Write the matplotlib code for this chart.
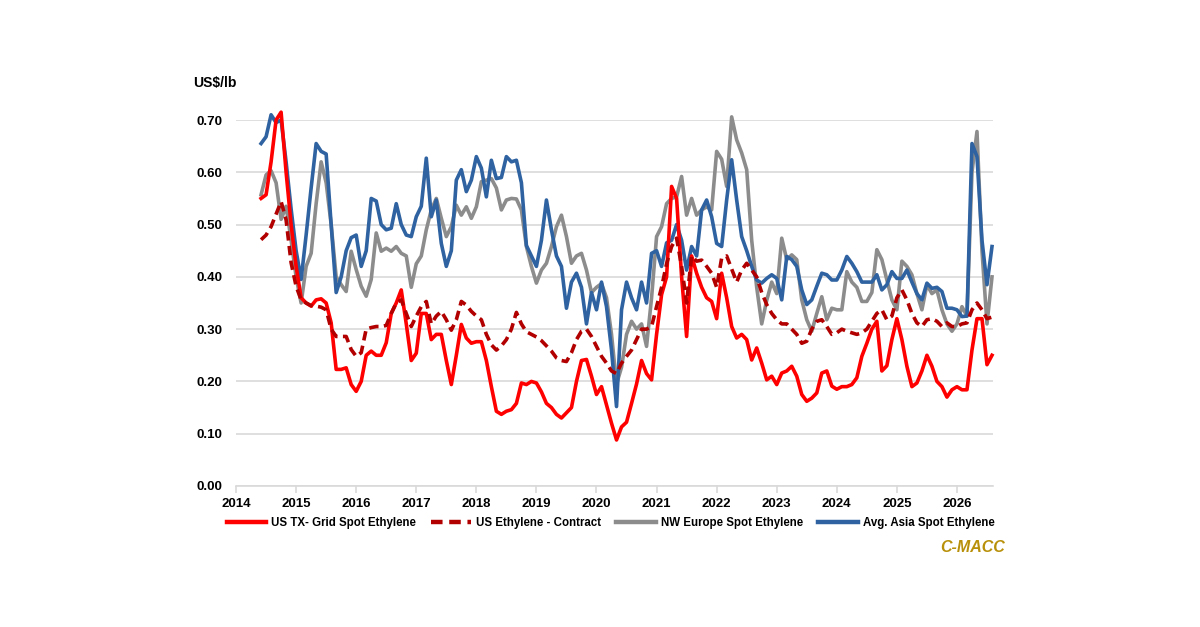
import matplotlib
matplotlib.use("Agg")
import matplotlib.pyplot as plt
import numpy as np

# monthly series, first point = June 2014
start_year = 2014
start_month = 6

us_tx_spot = [
    0.55, 0.557, 0.62, 0.70, 0.715, 0.60, 0.50, 0.42, 0.36, 0.35, 0.344, 0.356,
    0.358, 0.35, 0.312, 0.223, 0.223, 0.226, 0.194, 0.181, 0.20, 0.25, 0.258, 0.25,
    0.25, 0.274, 0.33, 0.35, 0.375, 0.31, 0.24, 0.254, 0.33, 0.33, 0.28, 0.29,
    0.29, 0.24, 0.194, 0.25, 0.309, 0.283, 0.273, 0.276, 0.276, 0.24, 0.19, 0.143,
    0.137, 0.143, 0.146, 0.158, 0.197, 0.194, 0.20, 0.197, 0.18, 0.158, 0.15, 0.137,
    0.13, 0.14, 0.15, 0.20, 0.24, 0.242, 0.21, 0.175, 0.19, 0.155, 0.12, 0.088,
    0.113, 0.122, 0.158, 0.195, 0.24, 0.215, 0.203, 0.29, 0.366, 0.40, 0.573, 0.55,
    0.40, 0.286, 0.44, 0.407, 0.38, 0.36, 0.353, 0.32, 0.407, 0.36, 0.305, 0.283,
    0.29, 0.28, 0.241, 0.264, 0.235, 0.203, 0.21, 0.194, 0.216, 0.22, 0.229, 0.21,
    0.175, 0.162, 0.168, 0.178, 0.216, 0.22, 0.191, 0.185, 0.19, 0.19, 0.194, 0.207,
    0.248, 0.273, 0.30, 0.315, 0.22, 0.23, 0.28, 0.32, 0.28, 0.229, 0.19, 0.197,
    0.22, 0.25, 0.229, 0.20, 0.19, 0.17, 0.184, 0.19, 0.184, 0.184, 0.26, 0.32,
    0.32, 0.232, 0.25,
]

us_contract = [
    0.471, 0.48, 0.496, 0.52, 0.544, 0.509, 0.427, 0.382, 0.356, 0.35, 0.345, 0.344,
    0.342, 0.337, 0.30, 0.286, 0.286, 0.286, 0.261, 0.248, 0.255, 0.30, 0.303, 0.305,
    0.305, 0.307, 0.33, 0.35, 0.356, 0.33, 0.305, 0.325, 0.343, 0.353, 0.31, 0.325,
    0.334, 0.318, 0.298, 0.318, 0.353, 0.346, 0.334, 0.325, 0.318, 0.29, 0.27, 0.26,
    0.268, 0.28, 0.30, 0.332, 0.31, 0.295, 0.29, 0.285, 0.278, 0.268, 0.258, 0.245,
    0.24, 0.238, 0.255, 0.28, 0.296, 0.30, 0.286, 0.267, 0.248, 0.235, 0.22, 0.215,
    0.235, 0.248, 0.26, 0.28, 0.30, 0.30, 0.305, 0.343, 0.38, 0.425, 0.458, 0.474,
    0.42, 0.35, 0.44, 0.43, 0.432, 0.42, 0.407, 0.38, 0.436, 0.44, 0.415, 0.39,
    0.413, 0.426, 0.413, 0.40, 0.37, 0.347, 0.33, 0.318, 0.31, 0.31, 0.30, 0.29,
    0.273, 0.277, 0.30, 0.315, 0.318, 0.305, 0.29, 0.293, 0.30, 0.296, 0.293, 0.29,
    0.293, 0.30, 0.315, 0.33, 0.337, 0.318, 0.325, 0.36, 0.375, 0.356, 0.33, 0.312,
    0.305, 0.318, 0.32, 0.315, 0.305, 0.312, 0.305, 0.305, 0.31, 0.312, 0.337, 0.35,
    0.337, 0.32, 0.323,
]

nw_europe_spot = [
    0.557, 0.595, 0.603, 0.58, 0.51, 0.535, 0.47, 0.40, 0.35, 0.42, 0.445, 0.54,
    0.62, 0.58, 0.50, 0.40, 0.385, 0.372, 0.449, 0.414, 0.382, 0.363, 0.395, 0.484,
    0.449, 0.455, 0.449, 0.458, 0.445, 0.44, 0.38, 0.425, 0.44, 0.49, 0.528, 0.55,
    0.512, 0.477, 0.496, 0.537, 0.518, 0.534, 0.512, 0.534, 0.582, 0.585, 0.588, 0.57,
    0.528, 0.547, 0.55, 0.549, 0.528, 0.458, 0.42, 0.388, 0.413, 0.426, 0.458, 0.496,
    0.518, 0.477, 0.426, 0.44, 0.445, 0.413, 0.37, 0.38, 0.387, 0.36, 0.29, 0.195,
    0.227, 0.29, 0.315, 0.30, 0.31, 0.267, 0.36, 0.477, 0.496, 0.54, 0.55, 0.553,
    0.592, 0.518, 0.55, 0.518, 0.528, 0.534, 0.528, 0.64, 0.625, 0.573, 0.706, 0.662,
    0.637, 0.605, 0.47, 0.38, 0.31, 0.355, 0.39, 0.368, 0.474, 0.433, 0.442, 0.433,
    0.356, 0.318, 0.296, 0.33, 0.362, 0.318, 0.34, 0.337, 0.337, 0.41, 0.39, 0.38,
    0.353, 0.353, 0.37, 0.452, 0.433, 0.394, 0.356, 0.337, 0.43, 0.42, 0.404, 0.368,
    0.337, 0.385, 0.368, 0.375, 0.337, 0.31, 0.296, 0.31, 0.343, 0.325, 0.60, 0.678,
    0.45, 0.31, 0.40,
]

asia_spot = [
    0.655, 0.668, 0.71, 0.695, 0.70, 0.62, 0.53, 0.45, 0.395, 0.48, 0.57, 0.655,
    0.64, 0.635, 0.50, 0.37, 0.40, 0.45, 0.475, 0.48, 0.42, 0.45, 0.55, 0.545,
    0.50, 0.49, 0.493, 0.54, 0.50, 0.48, 0.477, 0.515, 0.535, 0.627, 0.515, 0.547,
    0.464, 0.42, 0.45, 0.585, 0.605, 0.563, 0.585, 0.63, 0.608, 0.553, 0.623, 0.588,
    0.59, 0.63, 0.62, 0.623, 0.58, 0.46, 0.44, 0.42, 0.47, 0.547, 0.49, 0.44,
    0.42, 0.34, 0.39, 0.407, 0.38, 0.31, 0.37, 0.337, 0.39, 0.343, 0.26, 0.152,
    0.337, 0.39, 0.36, 0.337, 0.39, 0.35, 0.445, 0.45, 0.42, 0.465, 0.47, 0.50,
    0.47, 0.413, 0.458, 0.44, 0.528, 0.547, 0.515, 0.464, 0.458, 0.547, 0.624, 0.547,
    0.477, 0.45, 0.42, 0.394, 0.388, 0.397, 0.404, 0.397, 0.356, 0.439, 0.433, 0.42,
    0.375, 0.347, 0.356, 0.382, 0.407, 0.404, 0.394, 0.394, 0.413, 0.439, 0.426, 0.41,
    0.39, 0.39, 0.39, 0.404, 0.375, 0.385, 0.41, 0.397, 0.397, 0.413, 0.39, 0.368,
    0.356, 0.388, 0.378, 0.38, 0.372, 0.34, 0.34, 0.337, 0.324, 0.325, 0.655, 0.63,
    0.47, 0.385, 0.458,
]

years = list(range(2014, 2027))
y_ticks = [0.0, 0.1, 0.2, 0.3, 0.4, 0.5, 0.6, 0.7]


def month_axis(series):
    return start_year + (start_month - 1 + np.arange(len(series))) / 12.0


plt.rcParams['font.family'] = ['Liberation Sans', 'DejaVu Sans']

fig = plt.figure(figsize=(12, 6.27), dpi=100)
ax = fig.add_axes([0.1967, 0.2249, 0.6308, 0.5837])

ax.plot(month_axis(us_tx_spot), us_tx_spot, color='#ff0000', lw=2.6,
        label='US TX- Grid Spot Ethylene', clip_on=False, zorder=3)
ax.plot(month_axis(us_contract), us_contract, color='#b20000', lw=2.6,
        ls=(0, (2.6, 1.5)), label='US Ethylene - Contract', clip_on=False, zorder=3)
ax.plot(month_axis(nw_europe_spot), nw_europe_spot, color='#8c8c8c', lw=2.6,
        label='NW Europe Spot Ethylene', clip_on=False, zorder=2)
ax.plot(month_axis(asia_spot), asia_spot, color='#2e62a0', lw=2.6,
        label='Avg. Asia Spot Ethylene', clip_on=False, zorder=2)

ax.set_xlim(2014, 2026.6)
ax.set_ylim(0, 0.70)
ax.set_xticks(years)
ax.set_xticklabels([str(y) for y in years], fontsize=9.5, fontweight='bold')
ax.set_yticks(y_ticks)
ax.set_yticklabels(['%.2f' % v for v in y_ticks], fontsize=9.5, fontweight='bold')

ax.grid(axis='y', color='#d9d9d9', lw=1.2)
ax.set_axisbelow(True)
for s in ['top', 'right', 'left']:
    ax.spines[s].set_visible(False)
ax.spines['bottom'].set_color('#d9d9d9')
ax.spines['bottom'].set_linewidth(1.2)
ax.tick_params(axis='y', length=0, pad=10)
ax.tick_params(axis='x', length=5, color='#d9d9d9', width=1.2, pad=4)

fig.text(193 / 1200, 1 - 83 / 627, 'US$/lb', fontsize=10, fontweight='bold',
         va='center', ha='left')

leg = fig.legend(loc='center', bbox_to_anchor=(0.5088, 1 - 523 / 627), ncol=4,
                 frameon=False, prop={'weight': 'bold', 'size': 8.3},
                 handlelength=3.45, columnspacing=1.3, handletextpad=0.43)
for line in leg.get_lines():
    line.set_linewidth(3.2)

fig.text(1005 / 1200, 1 - 547 / 627, 'C-MACC', fontsize=11.5, fontweight='bold',
         fontstyle='italic', color='#b8900a', ha='right', va='center')

fig.savefig('out.png', dpi=100)
